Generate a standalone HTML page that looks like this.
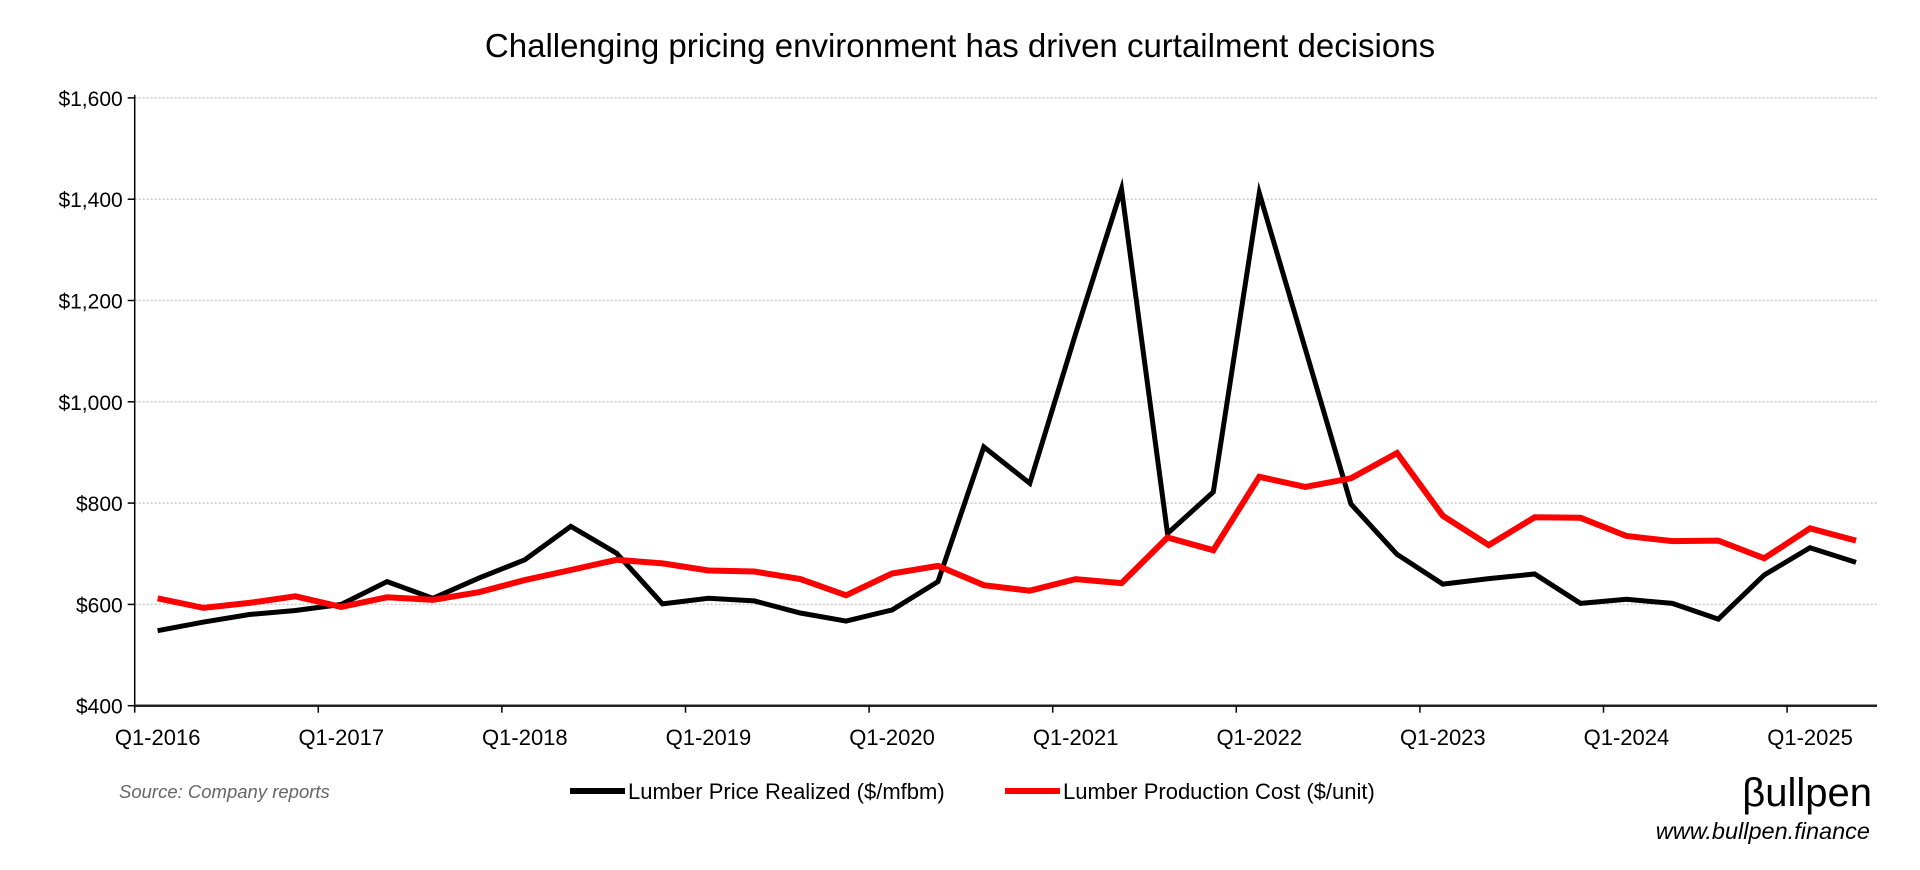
<!DOCTYPE html>
<html><head><meta charset="utf-8"><style>
html,body{margin:0;padding:0;background:#fff;width:1920px;height:870px;overflow:hidden}
svg{display:block;font-family:"Liberation Sans",sans-serif}
</style></head><body>
<svg width="1920" height="870" viewBox="0 0 1920 870">
<text x="960" y="57" text-anchor="middle" font-size="33" fill="#000">Challenging pricing environment has driven curtailment decisions</text>
<g id="grid"></g>
<g id="axes"></g>
<g id="series"></g>
<text x="119" y="798" font-size="18.5" font-style="italic" fill="#666">Source: Company reports</text>
<g>
<g>
<line x1="570" y1="791" x2="625" y2="791" stroke="#000" stroke-width="6"/>
<text x="628" y="799" font-size="22" fill="#000">Lumber Price Realized ($/mfbm)</text></g>
<g>
<line x1="1005" y1="791" x2="1060" y2="791" stroke="#f00" stroke-width="6"/>
<text x="1063" y="799" font-size="22" fill="#000">Lumber Production Cost ($/unit)</text></g>
</g>
<text x="1872" y="806" text-anchor="end" font-size="40" fill="#000">βullpen</text>
<text x="1870" y="839" text-anchor="end" font-size="23.5" font-style="italic" fill="#000">www.bullpen.finance</text>
</svg>
<script>
const categories = ["Q1-2016","Q2-2016","Q3-2016","Q4-2016","Q1-2017","Q2-2017","Q3-2017","Q4-2017","Q1-2018","Q2-2018","Q3-2018","Q4-2018","Q1-2019","Q2-2019","Q3-2019","Q4-2019","Q1-2020","Q2-2020","Q3-2020","Q4-2020","Q1-2021","Q2-2021","Q3-2021","Q4-2021","Q1-2022","Q2-2022","Q3-2022","Q4-2022","Q1-2023","Q2-2023","Q3-2023","Q4-2023","Q1-2024","Q2-2024","Q3-2024","Q4-2024","Q1-2025","Q2-2025"];
const priceRealized = [548,565,580,588,600,645,612,652,688,754,701,601,612,607,583,567,589,645,911,839,1134,1420,740,822,1412,1105,798,699,640,651,660,602,610,602,571,658,712,683];
const productionCost = [612,593,603,616,595,614,609,624,648,668,688,681,667,665,650,618,661,676,638,627,650,642,732,707,852,832,849,899,775,717,772,771,735,725,726,691,750,726];
const yTicks = [400,600,800,1000,1200,1400,1600];
const yTickLabels = ["$400","$600","$800","$1,000","$1,200","$1,400","$1,600"];

const NS="http://www.w3.org/2000/svg";
const X0=134.7, CW=45.9, XEND=1877;
const Y0=705.7, YMIN=400, PXPER=101.3/200;
function xPos(i){return X0+CW*(i+0.5);}
function yPos(v){return Y0-(v-YMIN)*PXPER;}
function mk(tag,attrs,parent){const e=document.createElementNS(NS,tag);for(const k in attrs)e.setAttribute(k,attrs[k]);parent.appendChild(e);return e;}
const grid=document.getElementById('grid'), axes=document.getElementById('axes'), series=document.getElementById('series');

yTicks.forEach((v,k)=>{
  const y=yPos(v);
  if(v>YMIN){
    const g=mk('line',{x1:X0,x2:XEND,y1:y,y2:y,stroke:'#c8c8c8','stroke-width':1.5,'stroke-dasharray':'2 2'},grid);
    
    
  }
  const t=mk('line',{x1:X0-7,x2:X0,y1:y,y2:y,stroke:'#000','stroke-width':1.5},axes);
  
  
  const l=mk('text',{x:X0-12,y:y+8,'text-anchor':'end','font-size':21,fill:'#000'},axes);
  l.textContent=yTickLabels[k];
  
  
});
const ya=mk('line',{x1:X0,x2:X0,y1:yPos(1600)-3,y2:Y0,stroke:'#000','stroke-width':1.5},axes);


const xa=mk('line',{x1:X0,x2:XEND,y1:Y0,y2:Y0,stroke:'#222','stroke-width':2.5},axes);


for(let i=0;i<categories.length;i+=4){
  const tx=X0+CW*i;
  const t=mk('line',{x1:tx,x2:tx,y1:Y0,y2:Y0+7,stroke:'#000','stroke-width':1.5},axes);
  
  
  const l=mk('text',{x:xPos(i),y:745,'text-anchor':'middle','font-size':22,fill:'#000'},axes);
  l.textContent=categories[i];
  
  
}
function drawLine(vals,color,w,name){
  const d=vals.map((v,i)=>(i?'L':'M')+xPos(i).toFixed(1)+' '+yPos(v).toFixed(1)).join(' ');
  const p=mk('path',{d:d,fill:'none',stroke:color,'stroke-width':w,'stroke-linejoin':'miter','stroke-miterlimit':10},series);
  
  
}
drawLine(priceRealized,'#000',5,'price-realized-line');
drawLine(productionCost,'#f00',6,'production-cost-line');
</script>
</body></html>
